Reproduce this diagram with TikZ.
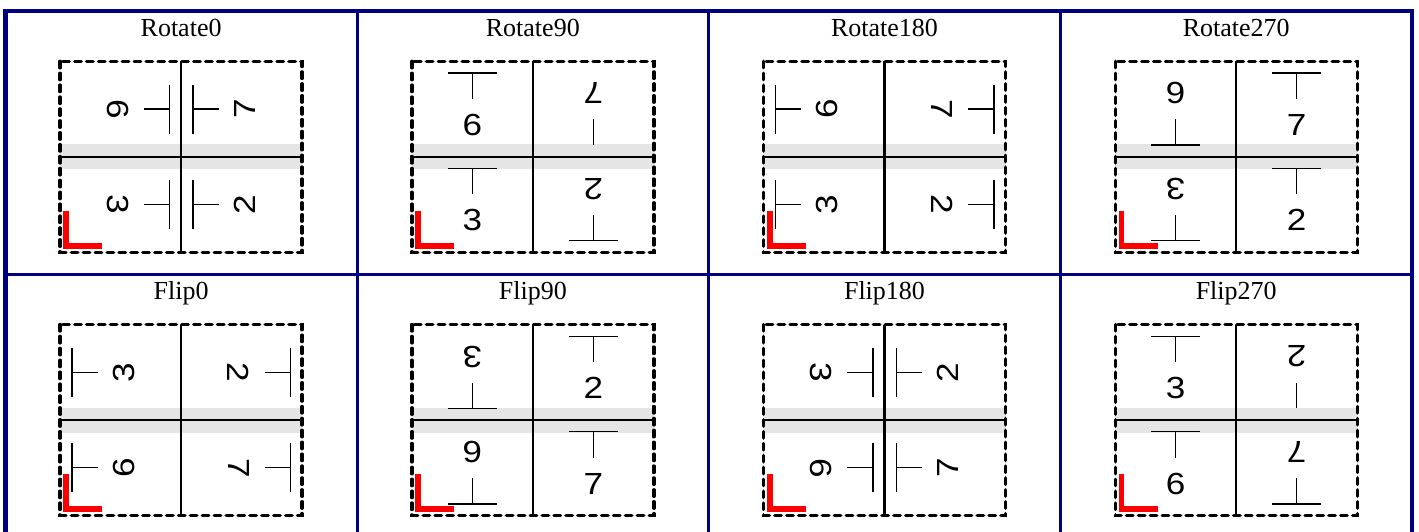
\documentclass[tikz,border=0pt]{standalone}
\usepackage{fontspec}
\usepackage{tikz}
\newfontfamily\titlefont{Liberation Serif}
\newfontfamily\digitfont{Liberation Sans}
\definecolor{framenavy}{RGB}{0,0,128}
\definecolor{bandgray}{RGB}{229,229,229}

% one panel: title, fold band, sheet outline, corner mark
\newcommand{\panelframe}[2]{%
  \def\panelid{#2}%
  \node[paneltitle] (#2) at (175.8,-25.5) {#1};
  \fill[bandgray] (54.8,-133.5) rectangle (296.8,-158.5);
  \draw[divider] (54.8,-146) -- (296.8,-146);
  \draw[divider] (175.8,-50.5) -- (175.8,-241.5);
  \draw[sheet] (54.8,-50.5) rectangle (296.8,-241.5);
  \draw[cornermark] (61,-200.2) -- (61,-235.3) -- (97.1,-235.3);
  \coordinate (TL) at (115.3,-98.25);
  \coordinate (TR) at (236.3,-98.25);
  \coordinate (BL) at (115.3,-193.75);
  \coordinate (BR) at (236.3,-193.75);
}

% one page: [bar colour]{quadrant}{angle of page top}{number}
\newcommand{\pagesign}[4][black]{%
  \pgfmathsetmacro{\halfh}{47.75+12.75*abs(sin(#3))}%
  \begin{scope}[shift={(#2)}, rotate=#3]
    \draw[tmark, draw=#1] (-24.5,\halfh-11.7) -- (24.5,\halfh-11.7);
    \draw[tmark] (0,\halfh-11.7) -- (0,\halfh-37.5);
    \node[rotate=#3, digit] (\panelid-#4) at (0,\halfh-63.5) {#4};
  \end{scope}}

\begin{document}
\begin{tikzpicture}[x=1pt, y=1pt,
    paneltitle/.style={anchor=base, inner sep=0pt, font=\titlefont\fontsize{26}{30}\selectfont},
    digit/.style={inner sep=0pt, xscale=1.15, font=\digitfont\fontsize{30.5}{35}\selectfont},
    tmark/.style={line width=1.4pt},
    divider/.style={line width=2.2pt},
    sheet/.style={line width=3.4pt, dash pattern=on 6.5pt off 5.4pt, line cap=round},
    cornermark/.style={red, line width=5.7pt},
    tableline/.style={framenavy, line width=3pt}]
  \clip (0,0) rectangle (1419,-531);
  \fill[white] (0,0) rectangle (1419,-531);

  % Table grid
  \draw[tableline] (357.0,-10.8) -- (357.0,-537);
  \draw[tableline] (708.7,-10.8) -- (708.7,-537);
  \draw[tableline] (1060.4,-10.8) -- (1060.4,-537);
  \draw[tableline] (5.3,-274) -- (1412,-274);
  \draw[tableline, line width=4.5pt] (5.3,-10.8) rectangle (1412,-537.2);

  % Rotate0
  \begin{scope}[shift={(5.3,-10.8)}]
    \panelframe{Rotate0}{rot0}
    \pagesign{TL}{-90}{6} \pagesign{TR}{90}{7}
    \pagesign{BL}{-90}{3} \pagesign{BR}{90}{2}
  \end{scope}

  % Rotate90
  \begin{scope}[shift={(357.0,-10.8)}]
    \panelframe{Rotate90}{rot90}
    \pagesign{TL}{0}{6} \pagesign[none]{TR}{180}{7}
    \pagesign{BL}{0}{3} \pagesign{BR}{180}{2}
  \end{scope}

  % Rotate180
  \begin{scope}[shift={(708.7,-10.8)}]
    \panelframe{Rotate180}{rot180}
    \pagesign{TL}{90}{6} \pagesign{TR}{-90}{7}
    \pagesign{BL}{90}{3} \pagesign{BR}{-90}{2}
  \end{scope}

  % Rotate270
  \begin{scope}[shift={(1060.4,-10.8)}]
    \panelframe{Rotate270}{rot270}
    \pagesign{TL}{180}{6} \pagesign{TR}{0}{7}
    \pagesign{BL}{180}{3} \pagesign{BR}{0}{2}
  \end{scope}

  % Flip0
  \begin{scope}[shift={(5.3,-274)}]
    \panelframe{Flip0}{flip0}
    \pagesign{TL}{90}{3} \pagesign{TR}{-90}{2}
    \pagesign{BL}{90}{6} \pagesign{BR}{-90}{7}
  \end{scope}

  % Flip90
  \begin{scope}[shift={(357.0,-274)}]
    \panelframe{Flip90}{flip90}
    \pagesign{TL}{180}{3} \pagesign{TR}{0}{2}
    \pagesign{BL}{180}{6} \pagesign{BR}{0}{7}
  \end{scope}

  % Flip180
  \begin{scope}[shift={(708.7,-274)}]
    \panelframe{Flip180}{flip180}
    \pagesign{TL}{-90}{3} \pagesign{TR}{90}{2}
    \pagesign{BL}{-90}{6} \pagesign{BR}{90}{7}
  \end{scope}

  % Flip270
  \begin{scope}[shift={(1060.4,-274)}]
    \panelframe{Flip270}{flip270}
    \pagesign{TL}{0}{3} \pagesign[none]{TR}{180}{2}
    \pagesign{BL}{0}{6} \pagesign{BR}{180}{7}
  \end{scope}
\end{tikzpicture}
\end{document}
